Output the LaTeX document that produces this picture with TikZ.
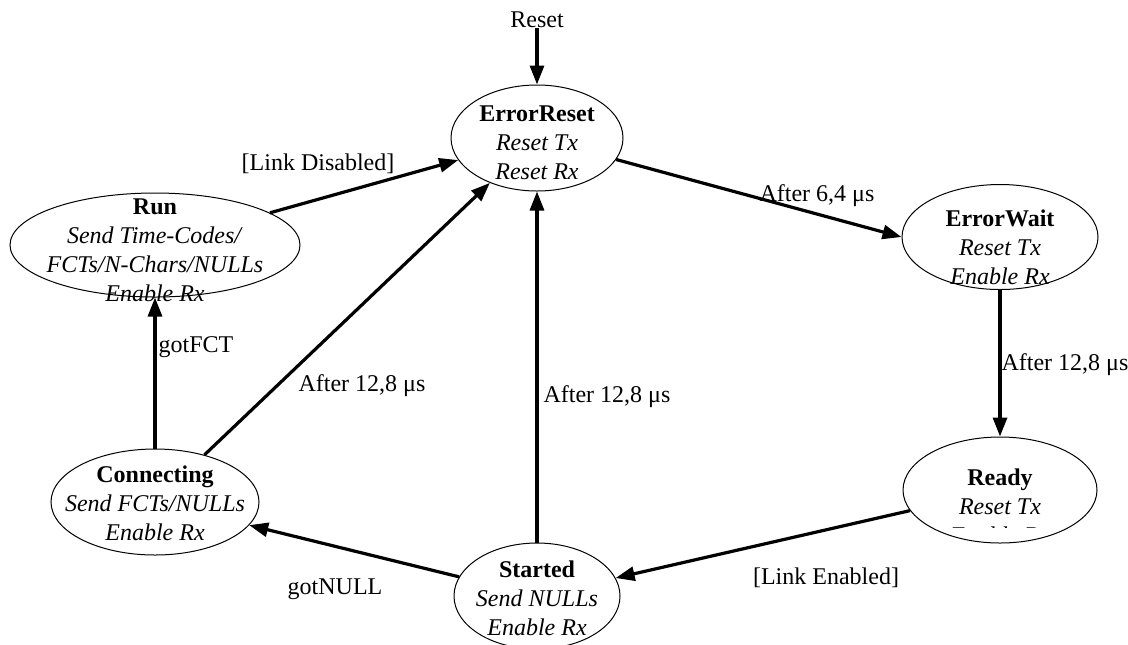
\documentclass[tikz,border=0pt]{standalone}
\usepackage{fontspec}
\setmainfont{Liberation Serif}
\usetikzlibrary{shapes.geometric, arrows.meta}

\begin{document}
\begin{tikzpicture}[x=0.5pt,y=-0.5pt,
  state/.style={ellipse, draw, line width=0.5pt, inner sep=0pt},
  statetext/.style={align=center, inner sep=0pt, font=\fontsize{12}{14.5}\selectfont},
  trans/.style={line width=1.6pt, -{Triangle[length=9.5pt,width=7pt]}},
  lbl/.style={inner sep=0pt, font=\fontsize{12}{14.5}\selectfont}]
\useasboundingbox (0,0) rectangle (1128,644);

% states
\node[state, minimum width=86pt, minimum height=53pt] (er) at (537,138) {};
\node[statetext] (er-t) at (537,143) {\textbf{ErrorReset}\\\textit{Reset Tx}\\\textit{Reset Rx}};

\node[state, minimum width=145pt, minimum height=52pt] (run) at (155,245) {};
\node[statetext] (run-t) at (155,250) {\textbf{Run}\\\textit{Send Time-Codes/}\\\textit{FCTs/N-Chars/NULLs}\\\textit{Enable Rx}};

\node[state, minimum width=98pt, minimum height=52.5pt] (ew) at (1000,237) {};
\node[statetext] (ew-t) at (1000,247) {\textbf{ErrorWait}\\\textit{Reset Tx}\\\textit{Enable Rx}};

\node[state, minimum width=97pt, minimum height=53pt] (rd) at (1000,490) {};
\begin{scope}
\clip (900,440) rectangle (1100,527);
\node[statetext] (rd-t) at (1000,506) {\textbf{Ready}\\\textit{Reset Tx}\\\textit{Enable Rx}};
\end{scope}

\node[state, minimum width=104pt, minimum height=53pt] (cn) at (155,502) {};
\node[statetext] (cn-t) at (155,503) {\textbf{Connecting}\\\textit{Send FCTs/NULLs}\\\textit{Enable Rx}};

\node[state, minimum width=83pt, minimum height=53pt] (st) at (537,596) {};
\node[statetext] (st-t) at (537,598) {\textbf{Started}\\\textit{Send NULLs}\\\textit{Enable Rx}};

% transitions
\node[lbl] (reset) at (537,20) {Reset};
\draw[trans] (reset) -- (er);

\draw[trans] (run) -- (er);
\node[lbl] (l-dis) at (318,164) {[Link Disabled]};

\draw[trans] (er) -- (ew.west);
\node[lbl] (l-64) at (817,196) {After 6,4 μs};

\draw[trans] (ew) -- (rd);
\node[lbl] (l-ew) at (1065,365) {After 12,8 μs};

\draw[trans] (rd) -- (st);
\node[lbl] (l-en) at (826,578) {[Link Enabled]};

\draw[trans] (st) -- (cn);
\node[lbl] (l-null) at (335,589) {gotNULL};

\draw[trans] (st) -- (er);
\node[lbl] (l-st) at (607,397) {After 12,8 μs};

\draw[trans] (cn) -- (er);
\node[lbl] (l-cn) at (362,386) {After 12,8 μs};

\draw[trans] (cn) -- (run);
\node[lbl] (l-fct) at (196,347) {gotFCT};

\end{tikzpicture}
\end{document}
